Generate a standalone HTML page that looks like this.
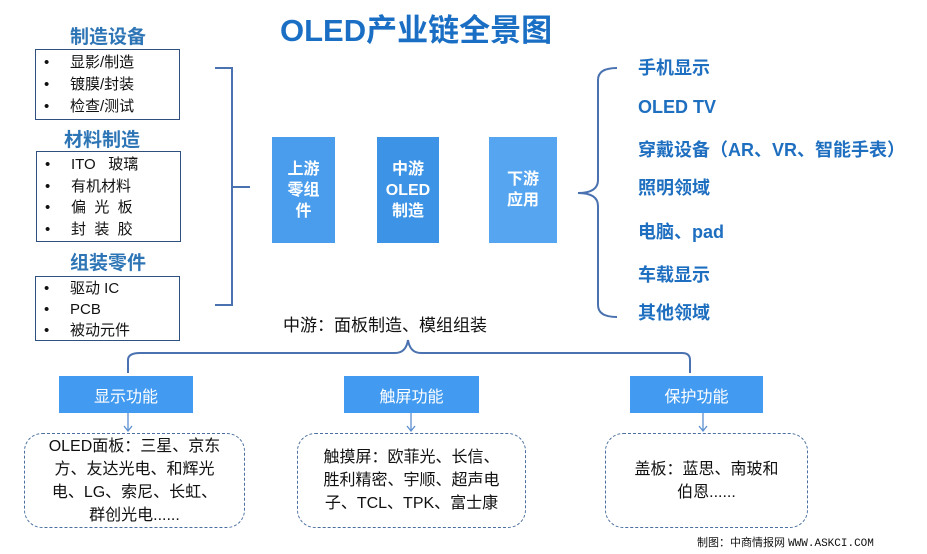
<!DOCTYPE html>
<html><head><meta charset="utf-8"><style>
body{margin:0;width:927px;height:554px;background:#fff;position:relative;overflow:hidden;font-family:"Liberation Sans","Noto Sans CJK SC",sans-serif}
.a{position:absolute;white-space:nowrap}
.h{font-weight:bold;color:#2e75b6;font-size:19px}
.box{position:absolute;border:1px solid #2f4f7f;box-sizing:border-box}
.li{position:absolute;left:8px;font-size:15px;color:#111;line-height:18px}
.li b{font-weight:normal;display:inline-block;width:26px}
.bb{position:absolute;background:#4a9ded;color:#fff;font-weight:bold;font-size:16px;line-height:21px;display:flex;align-items:center;justify-content:center;text-align:center}
.r{font-weight:bold;color:#1f6fc0;font-size:18px;left:638px}
.fb{position:absolute;background:#429bf0;color:#fff;font-size:16px;display:flex;align-items:center;justify-content:center}
.db{position:absolute;border:1.2px dashed #4a6fa0;border-radius:18px;box-sizing:border-box;font-size:16px;color:#111;text-align:center;line-height:23px;display:flex;align-items:center;justify-content:center}
</style></head><body>
<div class="a" style="left:280px;top:5px;font-size:31px;font-weight:bold;color:#1a6fc4">OLED产业链全景图</div>
<div class="a h" style="left:70px;top:22px">制造设备</div>
<div class="box" style="left:35px;top:49px;width:145px;height:71px">
<div class="li" style="top:4px"><b>•</b>显影/制造</div><div class="li" style="top:26px"><b>•</b>镀膜/封装</div><div class="li" style="top:48px"><b>•</b>检查/测试</div></div>
<div class="a h" style="left:64px;top:125px">材料制造</div>
<div class="box" style="left:36px;top:151px;width:145px;height:91px">
<div class="li" style="top:4px"><b>•</b>ITO&nbsp;&nbsp; 玻璃</div><div class="li" style="top:26px"><b>•</b>有机材料</div><div class="li" style="top:47px"><b>•</b>偏&nbsp; 光&nbsp; 板</div><div class="li" style="top:69px"><b>•</b>封&nbsp; 装&nbsp; 胶</div></div>
<div class="a h" style="left:70px;top:248px">组装零件</div>
<div class="box" style="left:35px;top:276px;width:145px;height:65px">
<div class="li" style="top:3px"><b>•</b>驱动 IC</div><div class="li" style="top:24px"><b>•</b>PCB</div><div class="li" style="top:45px"><b>•</b>被动元件</div></div>
<svg class="a" style="left:0;top:0" width="927" height="554">
<g fill="none" stroke="#4a72b0" stroke-width="2">
<path d="M215 68H232V305H215M232 187H250"/>
<path d="M617 68Q598 68 598 80V180Q598 193 578 193Q598 193 598 206V305Q598 317 617 317"/>
<path d="M128 373V360Q128 353 140 353H395Q406 353 408 340Q410 353 421 353H682Q690 353 690 360V373"/>
</g>
<g stroke="#5b8fd0" stroke-width="1.3" fill="none">
<path d="M128 413V431M124 426L128 431L132 426"/>
<path d="M411 413V431M407 426L411 431L415 426"/>
<path d="M703 413V431M699 426L703 431L707 426"/>
</g>
</svg>
<div class="bb" style="left:272px;top:137px;width:63px;height:106px">上游<br>零组<br>件</div>
<div class="bb" style="left:377px;top:137px;width:62px;height:106px;background:#3d94e6">中游<br>OLED<br>制造</div>
<div class="bb" style="left:489px;top:137px;width:68px;height:106px;background:#55a5f0">下游<br>应用</div>
<div class="a r" style="top:54px">手机显示</div>
<div class="a r" style="top:97px">OLED TV</div>
<div class="a r" style="top:136px">穿戴设备（AR、VR、智能手表）</div>
<div class="a r" style="top:174px">照明领域</div>
<div class="a r" style="top:218px">电脑、pad</div>
<div class="a r" style="top:261px">车载显示</div>
<div class="a r" style="top:299px">其他领域</div>
<div class="a" style="left:283px;top:311px;font-size:17px;color:#111">中游：面板制造、模组组装</div>
<div class="fb" style="left:59px;top:376px;width:134px;height:37px">显示功能</div>
<div class="fb" style="left:344px;top:376px;width:135px;height:37px">触屏功能</div>
<div class="fb" style="left:630px;top:376px;width:133px;height:37px">保护功能</div>
<div class="db" style="left:24px;top:433px;width:221px;height:95px">OLED面板：三星、京东<br>方、友达光电、和辉光<br>电、LG、索尼、长虹、<br>群创光电......</div>
<div class="db" style="left:297px;top:433px;width:229px;height:95px">触摸屏：欧菲光、长信、<br>胜利精密、宇顺、超声电<br>子、TCL、TPK、富士康</div>
<div class="db" style="left:605px;top:433px;width:203px;height:95px">盖板：蓝思、南玻和<br>伯恩......</div>
<div class="a" style="left:697px;top:534px;font-size:11px;color:#111">制图：中商情报网 <span style="font-family:'Liberation Mono',monospace">WWW.ASKCI.COM</span></div>
</body></html>
